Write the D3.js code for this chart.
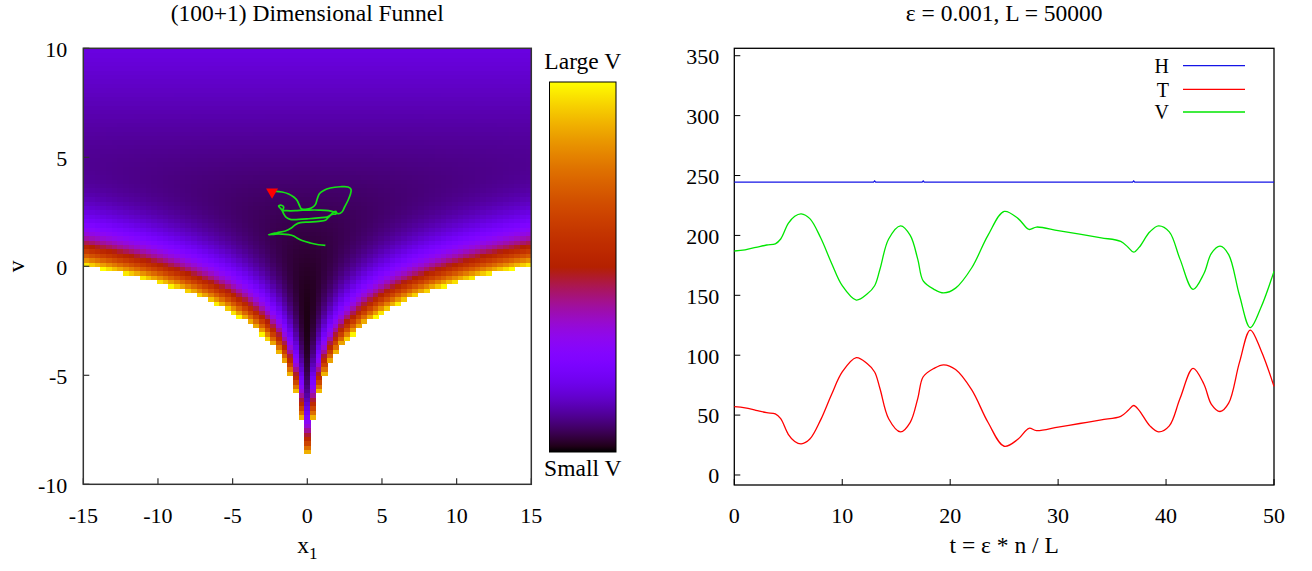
<!DOCTYPE html>
<html><head><meta charset="utf-8">
<script src="https://cdn.jsdelivr.net/npm/d3@7"></script>
<style>
html,body{margin:0;padding:0;background:#fff;}
svg{display:block;}
text{font-family:"Liberation Serif","Times New Roman",serif;font-size:22px;fill:#000;}
text.big{font-size:23.5px;}
text.leg{font-size:20px;}
</style>
</head><body>
<svg id="c" width="1312" height="571"></svg>
<script>
// ---------- data ----------
const leftTitle = "(100+1) Dimensional Funnel";
const rightTitle = "ε = 0.001, L = 50000";
const xTicksL = [-15, -10, -5, 0, 5, 10, 15];
const vTicksL = [-10, -5, 0, 5, 10];
const xDomainL = [-15, 15];
const vDomainL = [-10, 10];
// funnel potential parameters (V = v^2/(2*sigma^2) + x^2/(2 e^v) + v/2)
const funnelSigma = 3;
const gridNx = 80;      // sample points in x1
const gridNv = 101;     // sample points in v
const vMaxShown = 104;  // cells above this are not drawn
const colorGamma = 0.8;
// HMC trajectory in (x1, v)
const trajX = [1.21,0.76,0.20,-0.35,-0.69,-0.91,-1.25,-1.69,-2.14,-2.59,-2.03,-1.47,-1.07,-0.80,-0.47,0.09,0.76,1.21,1.43,1.65,1.92,1.92,1.77,1.54,1.32,0.76,0.09,-0.58,-1.14,-1.43,-1.58,-1.69,-1.81,-1.92,-1.74,-1.58,-1.63,-1.36,-0.80,-0.31,0.09,0.76,1.43,1.92,2.10,2.32,2.50,2.73,2.88,2.93,2.73,2.21,1.54,1.10,0.81,0.67,0.54,0.27,-0.13,-0.40,-0.53,-0.69,-0.91,-1.25,-1.69,-2.10,-2.36];
const trajV = [0.96,0.99,1.07,1.18,1.30,1.39,1.45,1.48,1.48,1.45,1.54,1.62,1.76,1.91,2.00,2.03,2.06,2.11,2.26,2.38,2.40,2.52,2.49,2.34,2.26,2.22,2.18,2.15,2.15,2.26,2.41,2.57,2.67,2.77,2.80,2.72,2.57,2.55,2.55,2.57,2.58,2.58,2.55,2.46,2.41,2.49,2.72,3.03,3.29,3.53,3.64,3.65,3.59,3.48,3.33,3.10,2.83,2.67,2.61,2.64,2.80,3.03,3.18,3.32,3.41,3.44,3.41];

// right chart
const tValues = [0,1,2,3,3.8,4.3,5,5.6,6.2,7,8,9,10,11.3,12.3,13,13.5,14.3,15.4,16.3,17,17.5,18.5,19.4,20.5,22,23.5,25,26.3,27.3,28,30,32,34,35.8,36.5,37,37.5,38.5,39.3,40.3,41.3,42.5,43.5,44.2,45,45.8,46.8,47.8,48.8,50];
const seriesV = [187,188,190,192,193,197,210,216,218,214,198,177,158,146,151,158,172,197,208,200,180,162,155,152,156,173,200,220,214,205,207,204,201,198,195,190,186,190,203,208,203,180,155,168,185,191,184,150,123,140,170];
const seriesT = [57,56,54,52,51,47,34,28,26,30,46,67,86,98,93,86,72,47,36,44,64,82,89,92,88,71,44,24,30,39,37,40,43,46,49,54,58,54,41,36,41,64,89,76,59,53,60,94,121,104,74];
const hTimes = [0,12.9,13,13.1,17.4,17.5,17.6,36.9,37,37.1,50];
const seriesH = [244.5,244.5,245.5,244.5,244.5,245.5,244.5,244.5,245.5,244.5,244.5];
const xTicksR = [0,10,20,30,40,50];
const yTicksR = [0,50,100,150,200,250,300,350];
const yDomainR = [-8.35, 356.2];
const legendLabels = ["H","T","V"];
const legendColors = ["#1414e6","#ff0000","#00e600"];

// ---------- helpers ----------
function palette(t){ // gnuplot rgbformulae 7,5,15
  t = Math.max(0, Math.min(1, t));
  const r = Math.sqrt(t), g = t*t*t, b = Math.max(0, Math.sin(2*Math.PI*t));
  return d3.rgb(255*r, 255*g, 255*b).formatHex();
}
function potential(x, v){
  return v*v/(2*funnelSigma*funnelSigma) + x*x/(2*Math.exp(v)) + v/2;
}

const svg = d3.select("#c");

// ---------- left panel ----------
const L = {left:83.3, right:531.3, top:48.3, bottom:484.3};
const xL = d3.scaleLinear(xDomainL, [L.left, L.right]);
const yL = d3.scaleLinear(vDomainL, [L.bottom, L.top]);

const xs = d3.range(gridNx).map(k => xDomainL[0] + k*(xDomainL[1]-xDomainL[0])/(gridNx-1));
const vs = d3.range(gridNv).map(k => vDomainL[0] + k*(vDomainL[1]-vDomainL[0])/(gridNv-1));
const vLow = -1.125; // minimum of the potential
const cells = [];
for (let i = 0; i < xs.length-1; i++){
  for (let j = 0; j < vs.length-1; j++){
    const m = (potential(xs[i],vs[j]) + potential(xs[i+1],vs[j]) + potential(xs[i],vs[j+1]) + potential(xs[i+1],vs[j+1]))/4;
    if (m > vMaxShown) continue;
    const t = Math.pow(Math.max(0,(m - vLow)/(vMaxShown - vLow)), colorGamma);
    cells.push({x0:xs[i], x1:xs[i+1], v0:vs[j], v1:vs[j+1], c:palette(t)});
  }
}
svg.append("g").selectAll("rect").data(cells).join("rect")
  .attr("x", d => xL(d.x0))
  .attr("y", d => yL(d.v1))
  .attr("width", d => xL(d.x1) - xL(d.x0) + 0.6)
  .attr("height", d => yL(d.v0) - yL(d.v1) + 0.6)
  .attr("fill", d => d.c)
  .attr("shape-rendering","crispEdges");

// trajectory
const traj = trajX.map((x,i)=>[x, trajV[i]]);
svg.append("path").datum(traj)
  .attr("d", d3.line().x(d=>xL(d[0])).y(d=>yL(d[1])).curve(d3.curveCatmullRom.alpha(0.5)))
  .attr("fill","none").attr("stroke","#16e016").attr("stroke-width",1.7);
const last = traj[traj.length-1];
svg.append("path")
  .attr("d", d3.symbol(d3.symbolTriangle, 62)())
  .attr("transform", `translate(${xL(last[0])},${yL(last[1])}) rotate(180)`)
  .attr("fill","#ff0000");

// border + ticks
svg.append("rect").attr("x",L.left).attr("y",L.top).attr("width",L.right-L.left).attr("height",L.bottom-L.top)
  .attr("fill","none").attr("stroke","#333").attr("stroke-width",1.5);
const gxL = svg.append("g");
xTicksL.forEach(t=>{
  gxL.append("line").attr("x1",xL(t)).attr("x2",xL(t)).attr("y1",L.bottom).attr("y2",L.bottom-6).attr("stroke","#333").attr("stroke-width",1.2);
  gxL.append("text").attr("x",xL(t)).attr("y",523).attr("text-anchor","middle").text(t);
});
vTicksL.forEach(t=>{
  gxL.append("line").attr("x1",L.left).attr("x2",L.left+6).attr("y1",yL(t)).attr("y2",yL(t)).attr("stroke","#333").attr("stroke-width",1.2);
  gxL.append("text").attr("x",L.left-16).attr("y",yL(t)).attr("dy","0.38em").attr("text-anchor","end").text(t);
});
svg.append("text").attr("class","big").attr("x",(L.left+L.right)/2).attr("y",21).attr("text-anchor","middle").text(leftTitle);
const xl = svg.append("text").attr("class","big").attr("x",(L.left+L.right)/2).attr("y",553).attr("text-anchor","middle");
xl.append("tspan").text("x");
xl.append("tspan").attr("dy",6).attr("font-size","17px").text("1");
svg.append("text").attr("class","big").attr("transform",`translate(24,${yL(0)}) rotate(-90)`).attr("text-anchor","middle").text("v");

// colorbar
const CB = {x:549.5, w:66.5, top:82, bottom:452};
const grad = svg.append("defs").append("linearGradient").attr("id","cbg")
  .attr("x1",0).attr("y1",1).attr("x2",0).attr("y2",0);
d3.range(0,1.0001,1/64).forEach(t=>grad.append("stop").attr("offset",t).attr("stop-color",palette(t)));
svg.append("rect").attr("x",CB.x).attr("y",CB.top).attr("width",CB.w).attr("height",CB.bottom-CB.top)
  .attr("fill","url(#cbg)").attr("stroke","#000").attr("stroke-width",1);
svg.append("text").attr("class","big").attr("x",CB.x+CB.w/2).attr("y",69).attr("text-anchor","middle").text("Large V");
svg.append("text").attr("class","big").attr("x",CB.x+CB.w/2).attr("y",476).attr("text-anchor","middle").text("Small V");

// ---------- right panel ----------
const R = {left:734.3, right:1274, top:48.3, bottom:485};
const xR = d3.scaleLinear([0,50],[R.left,R.right]);
const yR = d3.scaleLinear(yDomainR,[R.bottom,R.top]);

svg.append("rect").attr("x",R.left).attr("y",R.top).attr("width",R.right-R.left).attr("height",R.bottom-R.top)
  .attr("fill","none").attr("stroke","#000").attr("stroke-width",1.3);
const gR = svg.append("g");
xTicksR.forEach(t=>{
  gR.append("line").attr("x1",xR(t)).attr("x2",xR(t)).attr("y1",R.bottom).attr("y2",R.bottom-6).attr("stroke","#000");
  gR.append("text").attr("x",xR(t)).attr("y",523).attr("text-anchor","middle").text(t);
});
yTicksR.forEach(t=>{
  gR.append("line").attr("x1",R.left).attr("x2",R.left+6).attr("y1",yR(t)).attr("y2",yR(t)).attr("stroke","#000");
  gR.append("text").attr("x",R.left-15).attr("y",yR(t)).attr("dy","0.38em").attr("text-anchor","end").text(t);
});
svg.append("text").attr("class","big").attr("x",(R.left+R.right)/2).attr("y",21).attr("text-anchor","middle").text(rightTitle);
svg.append("text").attr("class","big").attr("x",(R.left+R.right)/2).attr("y",553).attr("text-anchor","middle").text("t = ε * n / L");

const lineGen = d3.line().x(d=>xR(d[0])).y(d=>yR(d[1])).curve(d3.curveCatmullRom.alpha(0.5));
const series = [
  {pts: hTimes.map((t,i)=>[t, seriesH[i]]), color: legendColors[0], curve: d3.curveLinear},
  {pts: tValues.map((t,i)=>[t, seriesT[i]]), color: legendColors[1]},
  {pts: tValues.map((t,i)=>[t, seriesV[i]]), color: legendColors[2]}
];
series.forEach(s=>{
  const g = s.curve ? d3.line().x(d=>xR(d[0])).y(d=>yR(d[1])).curve(s.curve) : lineGen;
  svg.append("path").datum(s.pts).attr("d", g).attr("fill","none").attr("stroke",s.color).attr("stroke-width",1.3);
});

// legend
const legY = [65.7, 89.3, 112];
legendLabels.forEach((lab,i)=>{
  svg.append("text").attr("class","leg").attr("x",1169).attr("y",legY[i]).attr("dy","0.36em").attr("text-anchor","end").text(lab);
  svg.append("line").attr("x1",1183).attr("x2",1245).attr("y1",legY[i]).attr("y2",legY[i])
    .attr("stroke",legendColors[i]).attr("stroke-width",1.3);
});
</script>
</body></html>
